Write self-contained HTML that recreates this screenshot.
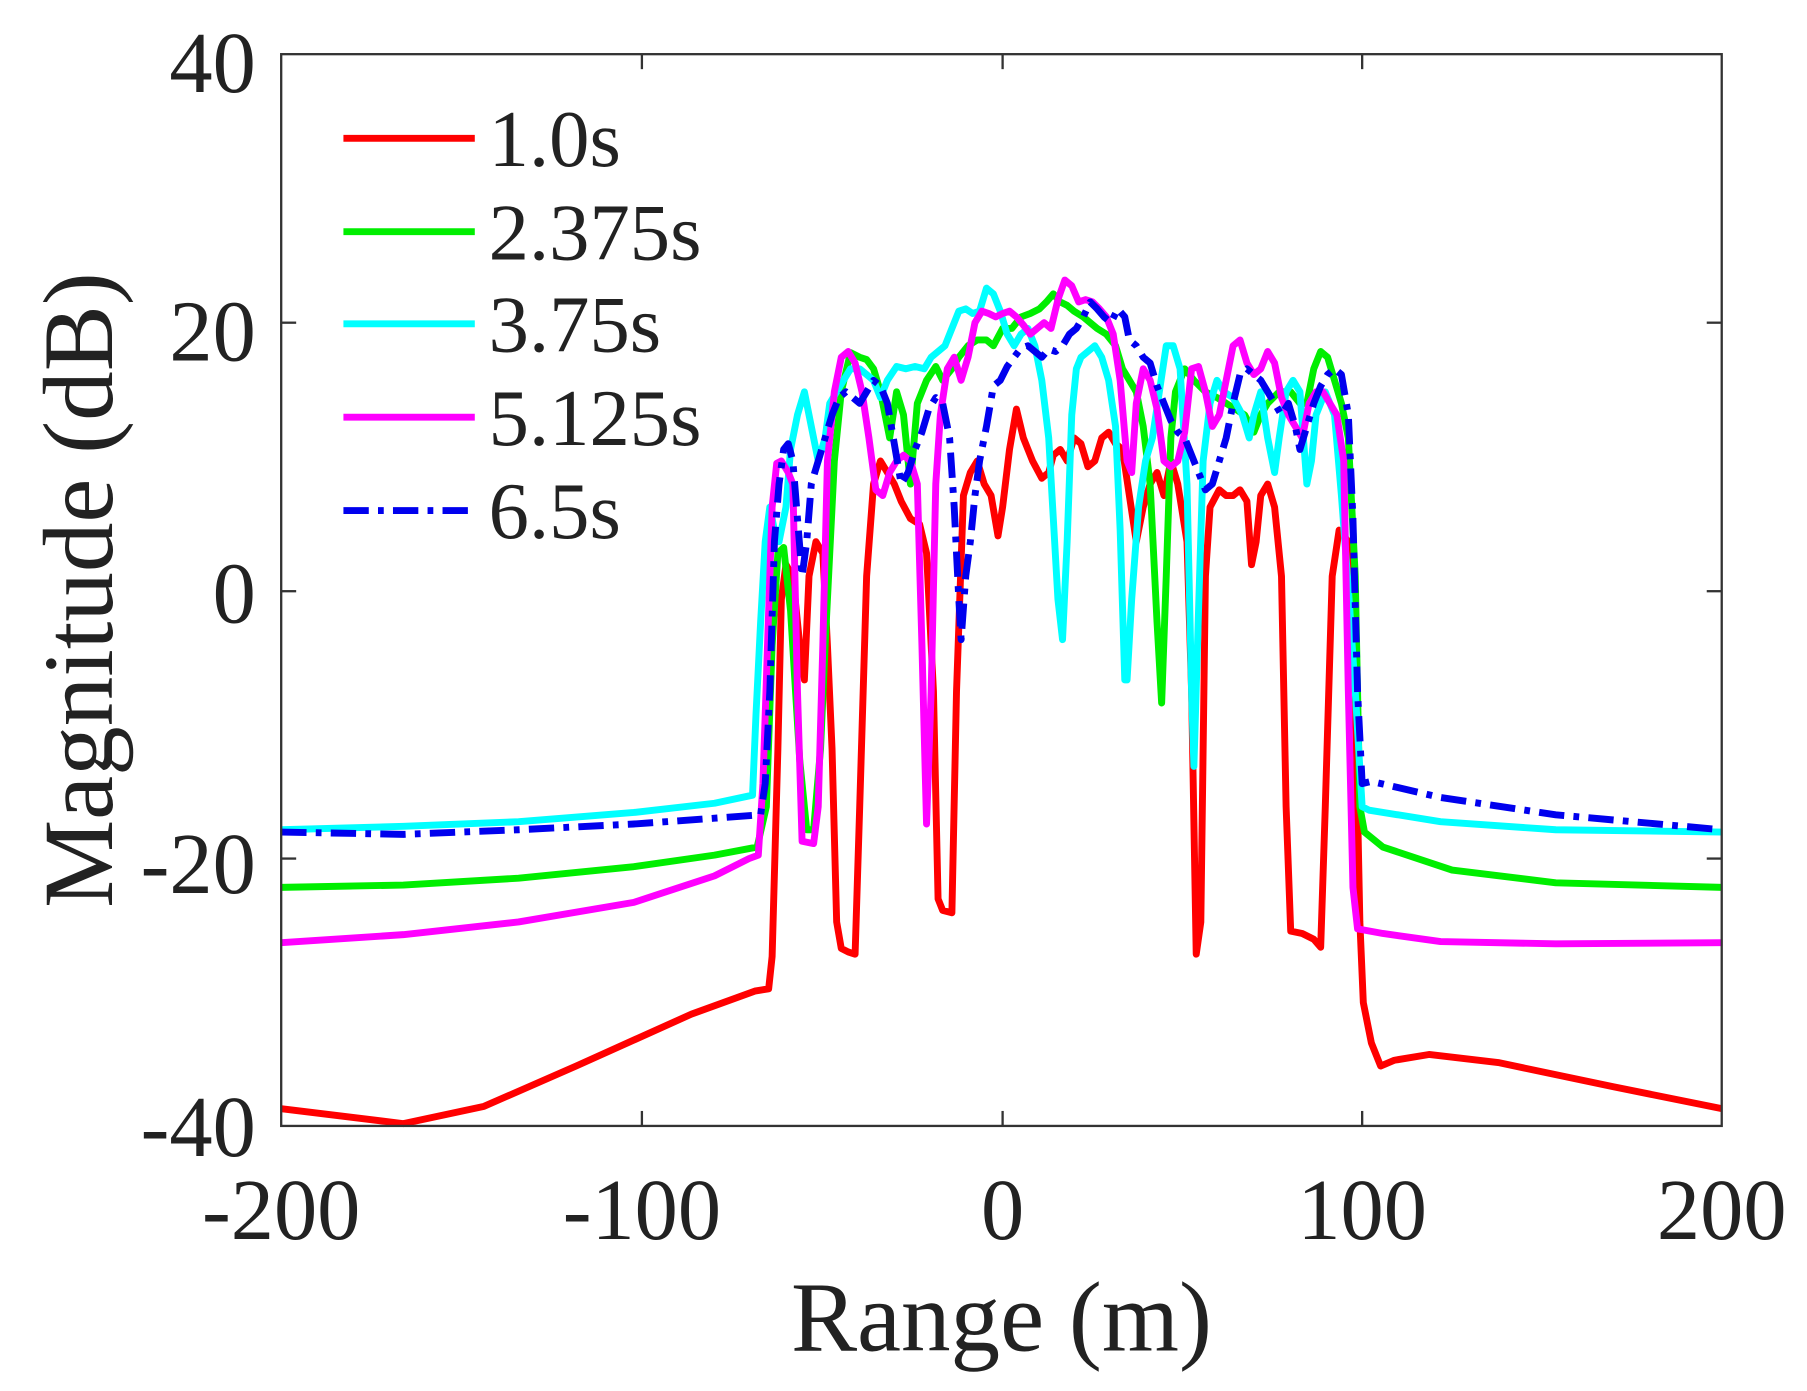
<!DOCTYPE html>
<html><head><meta charset="utf-8"><style>html,body{margin:0;padding:0;background:#fff}svg{display:block}</style></head><body>
<svg width="1807" height="1391" viewBox="0 0 1568 1207" xmlns="http://www.w3.org/2000/svg" font-family="'Liberation Serif', serif" fill="#222">
<rect width="1568" height="1207" fill="#fff"/>
<g fill="none" stroke-width="6" stroke-linejoin="round">
<polyline stroke="#ff0000" points="244,962 350,975 420,960 500,925 600,880 655,860 667,858 670,830 675,650 678,520 682,490 688,500 694,560 698,590 702,500 708,470 714,480 718,560 722,650 726,800 730,823 736,826 742,828 746,700 752,500 758,420 764,400 770,410 776,420 782,435 790,450 798,455 804,480 810,600 814,780 818,790 826,792 830,600 836,430 842,410 848,400 854,420 860,430 866,465 870,440 876,390 882,355 888,380 896,400 904,415 910,410 914,395 920,390 926,400 932,380 938,385 944,405 950,400 956,380 962,375 968,385 974,390 980,430 986,470 992,440 998,420 1004,410 1010,430 1016,400 1022,420 1030,470 1034,600 1038,828 1042,800 1046,500 1050,440 1058,425 1064,430 1070,430 1076,425 1082,435 1086,490 1090,470 1094,430 1100,420 1106,440 1112,500 1116,700 1120,808 1130,810 1140,815 1146,822 1150,700 1156,500 1162,460 1170,470 1176,600 1180,800 1183,870 1190,905 1198,925 1210,920 1240,915 1300,922 1400,943 1494,962"/>
<polyline stroke="#00ee00" points="244,770 350,768 450,762 550,752 620,742 657,735 665,700 670,560 675,480 680,475 686,530 694,660 700,720 706,720 712,650 716,560 720,480 724,400 730,340 738,306 746,310 752,312 758,320 764,340 772,380 778,340 784,360 790,420 796,350 804,330 812,318 818,330 826,320 832,310 840,300 848,295 856,295 862,300 870,285 878,285 886,275 894,272 902,268 908,262 914,255 920,262 926,265 932,270 940,275 946,280 952,285 960,290 968,300 974,320 980,330 986,340 992,370 998,420 1004,540 1008,610 1012,500 1016,380 1020,340 1028,320 1036,330 1046,340 1056,345 1064,350 1072,355 1080,360 1088,375 1094,360 1100,350 1110,340 1120,340 1128,350 1134,350 1140,320 1146,305 1152,310 1158,330 1164,350 1170,380 1176,500 1180,700 1184,722 1200,735 1260,755 1350,766 1494,770"/>
<polyline stroke="#00ffff" points="244,720 350,717 450,713 550,705 620,697 653,690 656,620 660,540 664,470 668,440 672,460 676,470 682,440 686,390 692,360 698,340 704,370 710,400 716,380 720,350 726,340 732,330 738,320 746,320 752,325 758,330 764,345 770,330 778,318 786,320 794,318 802,320 808,310 814,305 820,300 826,285 832,270 838,268 844,272 850,270 856,250 862,255 868,270 874,290 880,300 886,290 892,285 898,300 904,330 910,380 914,450 918,520 922,555 926,470 930,360 934,320 938,310 944,305 950,300 956,310 962,330 968,370 972,460 976,590 978,590 982,520 988,440 994,400 1000,380 1006,340 1012,300 1018,300 1024,320 1030,420 1034,600 1036,665 1040,530 1044,400 1050,350 1056,330 1062,340 1070,345 1078,360 1084,380 1088,360 1094,340 1100,380 1106,410 1110,380 1116,340 1122,330 1128,340 1134,420 1138,400 1142,360 1150,340 1158,360 1164,430 1170,510 1176,600 1182,700 1188,703 1250,713 1350,720 1494,722"/>
<polyline stroke="#ff00ff" points="244,818 350,811 450,800 550,783 620,760 650,745 658,742 662,680 666,560 670,440 674,402 678,400 684,410 688,420 692,600 696,730 706,732 710,700 714,560 718,400 724,340 730,310 736,305 742,315 748,340 754,380 760,425 766,430 772,410 778,400 784,395 790,400 796,420 800,560 804,715 808,600 812,420 816,360 822,320 828,310 834,330 840,310 846,280 852,270 858,272 864,275 870,272 876,270 882,275 888,282 894,290 900,285 906,280 912,285 918,260 924,243 930,248 936,262 942,260 948,262 954,268 960,275 966,290 972,330 978,400 982,410 986,350 992,320 998,330 1004,355 1010,400 1016,405 1022,400 1028,375 1034,320 1040,318 1046,340 1052,370 1058,360 1064,330 1070,300 1076,295 1082,315 1088,325 1094,320 1100,305 1106,315 1112,345 1118,360 1124,370 1130,380 1136,350 1142,340 1148,340 1154,350 1160,360 1166,400 1170,600 1174,770 1178,806 1200,810 1250,817 1350,819 1494,818"/>
<polyline stroke="#0000ee" stroke-dasharray="22,8,5,8" points="244,722 350,724 450,720 550,715 620,710 660,707 664,680 668,600 672,470 676,420 680,390 684,385 688,400 692,450 696,500 700,470 704,420 710,400 716,380 722,360 728,345 734,340 740,345 746,350 752,340 758,330 764,335 770,350 776,385 782,420 788,410 794,390 800,375 806,355 812,345 818,350 824,380 828,440 832,520 834,555 838,500 842,470 846,430 850,400 856,370 862,335 868,330 874,318 880,310 886,302 892,300 898,305 904,310 910,303 916,305 922,300 928,290 934,285 940,275 946,262 952,268 958,275 964,280 970,268 976,275 980,295 986,300 992,310 998,315 1004,335 1010,350 1016,365 1022,375 1028,380 1034,395 1040,410 1046,425 1052,420 1058,400 1064,380 1070,350 1076,325 1082,320 1088,325 1094,330 1100,340 1106,350 1112,360 1118,350 1124,370 1128,390 1134,370 1140,350 1146,335 1152,325 1158,320 1164,325 1170,360 1174,450 1178,600 1182,680 1190,678 1250,692 1350,707 1494,720"/>
</g>
<rect x="244" y="47" width="1250" height="930" fill="none" stroke="#333" stroke-width="2"/>
<g stroke="#333" stroke-width="2">
<line x1="557" y1="977" x2="557" y2="964"/><line x1="870" y1="977" x2="870" y2="964"/><line x1="1182" y1="977" x2="1182" y2="964"/>
<line x1="557" y1="47" x2="557" y2="60"/><line x1="870" y1="47" x2="870" y2="60"/><line x1="1182" y1="47" x2="1182" y2="60"/>
<line x1="244" y1="280" x2="257" y2="280"/><line x1="244" y1="513" x2="257" y2="513"/><line x1="244" y1="745" x2="257" y2="745"/>
<line x1="1494" y1="280" x2="1481" y2="280"/><line x1="1494" y1="513" x2="1481" y2="513"/><line x1="1494" y1="745" x2="1481" y2="745"/>
</g>
<g font-size="75" text-anchor="end">
<text x="222" y="80">40</text><text x="222" y="313">20</text><text x="222" y="540">0</text><text x="222" y="775">-20</text><text x="222" y="1003">-40</text>
</g>
<g font-size="75" text-anchor="middle">
<text x="244" y="1075">-200</text><text x="557" y="1075">-100</text><text x="870" y="1075">0</text><text x="1182" y="1075">100</text><text x="1494" y="1075">200</text>
</g>
<text x="869" y="1172" font-size="86" text-anchor="middle">Range (m)</text>
<text transform="translate(97,512) rotate(-90)" font-size="86" text-anchor="middle">Magnitude (dB)</text>
<g stroke-width="6">
<line x1="298" y1="120" x2="412" y2="120" stroke="#ff0000"/>
<line x1="298" y1="201" x2="412" y2="201" stroke="#00ee00"/>
<line x1="298" y1="281" x2="412" y2="281" stroke="#00ffff"/>
<line x1="298" y1="362" x2="412" y2="362" stroke="#ff00ff"/>
<line x1="298" y1="443" x2="412" y2="443" stroke="#0000ee" stroke-dasharray="22,8,5,8"/>
</g>
<g font-size="70">
<text x="424" y="144">1.0s</text><text x="424" y="225">2.375s</text><text x="424" y="305">3.75s</text><text x="424" y="386">5.125s</text><text x="424" y="467">6.5s</text>
</g>
</svg>
</body></html>
